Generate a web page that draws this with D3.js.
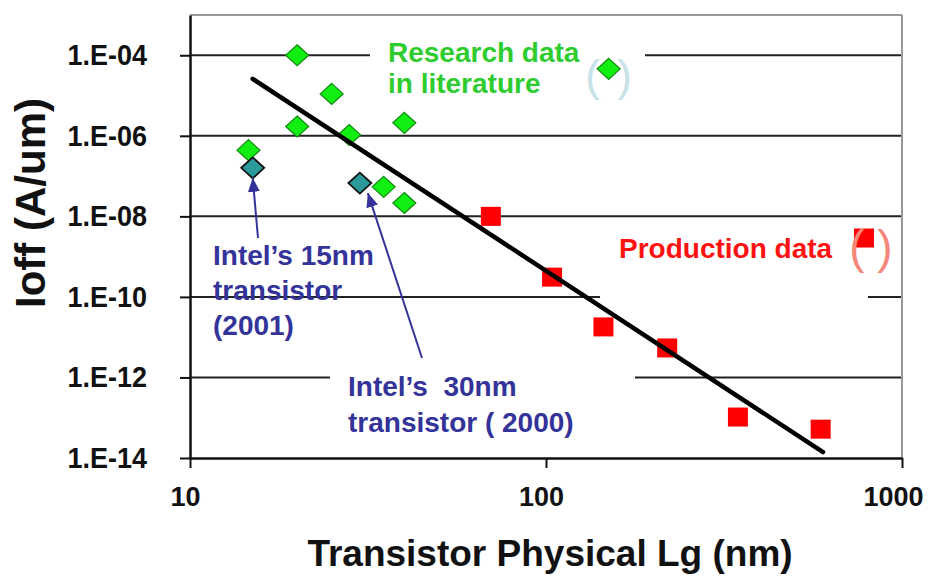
<!DOCTYPE html>
<html>
<head>
<meta charset="utf-8">
<script src="https://cdn.jsdelivr.net/npm/d3@7"></script>
<style>
body { margin: 0; background: #fff; }
text { font-family: Arial, "Liberation Sans", sans-serif; }
</style>
</head>
<body>
<svg id="chart" width="929" height="576"></svg>
<script>
// research data in literature (green diamonds)
const researchLg = [20, 25, 20, 28, 40, 14.6, 35, 40];
const researchIoff = [1e-4, 1.1e-5, 1.7e-6, 1.05e-6, 2.1e-6, 4.4e-7, 5.4e-8, 2.15e-8];

// Intel transistors (teal diamonds)
const intelLg = [15, 30];
const intelIoff = [1.6e-7, 6.7e-8];

// production data (red squares)
const prodLg = [70, 104, 145, 219, 346, 591];
const prodIoff = [1e-8, 3.1e-10, 1.8e-11, 5.4e-12, 1.04e-13, 5.2e-14];

// trend line end points
const trendLg = [15, 600];
const trendIoff = [2.6e-5, 1.4e-14];

// legend markers
const legendResearch = [150, 4.6e-5];
const legendProd = [782, 2.9e-9];

const xTicks = [10, 100, 1000];
const yTicks = [1e-4, 1e-6, 1e-8, 1e-10, 1e-12, 1e-14];

const margin = {top: 15, right: 27, bottom: 118, left: 190};
const width = 929 - margin.left - margin.right;
const height = 576 - margin.top - margin.bottom;

const svg = d3.select("#chart")
	.append("g")
	.attr("transform", "translate(" + margin.left + "," + margin.top + ")");

const x = d3.scaleLog().domain([10, 1000]).range([0, width]);
const y = d3.scaleLog().domain([1e-14, 1e-3]).range([height, 0]);

const navy = "#333399";
const green = "#2ecc2e";
const red = "#ff1111";

// gridlines
svg.selectAll(".grid")
	.data(yTicks.slice(0, -1))
	.enter()
	.append("line")
	.attr("x1", 0)
	.attr("x2", width)
	.attr("y1", d => y(d))
	.attr("y2", d => y(d))
	.attr("stroke", "#222")
	.attr("stroke-width", 2);

// text boxes with white fill that hide the gridlines
const boxes = [
	{x: 180, y: 13, w: 275, h: 72},
	{x: 410, y: 207, w: 268, h: 81},
	{x: 140, y: 347, w: 305, h: 80}
];
svg.selectAll(".box")
	.data(boxes)
	.enter()
	.append("rect")
	.attr("x", d => d.x)
	.attr("y", d => d.y)
	.attr("width", d => d.w)
	.attr("height", d => d.h)
	.attr("fill", "#fff");

// frame top and right
svg.append("line")
	.attr("x1", 0).attr("x2", width)
	.attr("y1", 0).attr("y2", 0)
	.attr("stroke", "#999").attr("stroke-width", 2);
svg.append("line")
	.attr("x1", width).attr("x2", width)
	.attr("y1", 0).attr("y2", height)
	.attr("stroke", "#999").attr("stroke-width", 2);

// axes
const yAxis = svg.append("g")
	.call(d3.axisLeft(y)
		.tickValues(yTicks)
		.tickSize(10)
		.tickSizeOuter(0)
		.tickPadding(33)
		.tickFormat(d => "1.E-" + String(-Math.round(Math.log10(d))).padStart(2, "0")));

const xAxis = svg.append("g")
	.attr("transform", "translate(0," + height + ")")
	.call(d3.axisBottom(x)
		.tickValues(xTicks)
		.tickSize(10)
		.tickSizeOuter(0)
		.tickPadding(19)
		.tickFormat(d3.format("d")));

[yAxis, xAxis].forEach(a => {
	a.selectAll("path").attr("stroke", "#111").attr("stroke-width", 2.5);
	a.selectAll("line").attr("stroke", "#111").attr("stroke-width", 2);
	a.selectAll("text")
		.attr("fill", "#111")
		.style("font-weight", "bold");
});

// y labels are a bit taller and narrower than plain bold Arial
yAxis.selectAll("text")
	.style("font-size", "29px")
	.attr("x", -43 / 0.93)
	.attr("transform", "scale(0.93,1)");

xAxis.selectAll("text")
	.style("font-size", "27px")
	.attr("dx", (d, i) => i === xTicks.length - 1 ? -9 : -5);

// axis titles
svg.append("text")
	.attr("transform", "translate(" + (45 - margin.left) + "," + (203 - margin.top) + ") rotate(-90)")
	.attr("text-anchor", "middle")
	.style("font-size", "42px")
	.style("font-weight", "bold")
	.attr("fill", "#111")
	.text("Ioff (A/um)");

svg.append("text")
	.attr("x", 550 - margin.left)
	.attr("y", 566 - margin.top)
	.attr("text-anchor", "middle")
	.style("font-size", "37px")
	.style("font-weight", "bold")
	.attr("fill", "#111")
	.text("Transistor Physical Lg (nm)");

// diamond shape
const diamond = "M0,-10.5L11.5,0L0,10.5L-11.5,0Z";

// research diamonds
svg.selectAll(".research")
	.data(researchLg.map((d, i) => [d, researchIoff[i]]).concat([legendResearch]))
	.enter()
	.append("path")
	.attr("d", diamond)
	.attr("transform", d => "translate(" + x(d[0]) + "," + y(d[1]) + ")")
	.attr("fill", "#11ee11")
	.attr("stroke", "#118811")
	.attr("stroke-width", 1.2);

// Intel diamonds
svg.selectAll(".intel")
	.data(intelLg.map((d, i) => [d, intelIoff[i]]))
	.enter()
	.append("path")
	.attr("d", diamond)
	.attr("transform", d => "translate(" + x(d[0]) + "," + y(d[1]) + ")")
	.attr("fill", "#2a9a9a")
	.attr("stroke", "#111")
	.attr("stroke-width", 1.8);

// production squares
svg.selectAll(".prod")
	.data(prodLg.map((d, i) => [d, prodIoff[i]]).concat([legendProd]))
	.enter()
	.append("rect")
	.attr("x", d => x(d[0]) - 10)
	.attr("y", d => y(d[1]) - 9.5)
	.attr("width", 20)
	.attr("height", 19)
	.attr("fill", "#ff0000");

// trend line
svg.append("path")
	.datum(trendLg.map((d, i) => [d, trendIoff[i]]))
	.attr("d", d3.line().x(d => x(d[0])).y(d => y(d[1])))
	.attr("fill", "none")
	.attr("stroke", "#000")
	.attr("stroke-width", 4.5)
	.attr("stroke-linecap", "round");

// parentheses around legend markers
function parens(pt, color, size, dxl, dxr, dy) {
	const cx = x(pt[0]), cy = y(pt[1]);
	svg.append("text")
		.attr("x", cx + dxl).attr("y", cy + dy)
		.attr("text-anchor", "middle")
		.style("font-size", size + "px")
		.attr("fill", color)
		.text("(");
	svg.append("text")
		.attr("x", cx + dxr).attr("y", cy + dy)
		.attr("text-anchor", "middle")
		.style("font-size", size + "px")
		.attr("fill", color)
		.text(")");
}
parens(legendResearch, "#c8e2ea", 44, -16, 16, 22);
parens(legendProd, "#f4877a", 46, -7, 21, 25);

// annotation texts
function label(lines, px, py, lineH, color) {
	const t = svg.append("text")
		.attr("x", px - margin.left)
		.attr("y", py - margin.top)
		.style("font-size", "28px")
		.style("font-weight", "bold")
		.style("white-space", "pre")
		.attr("fill", color);
	lines.forEach((s, i) => {
		t.append("tspan")
			.attr("x", px - margin.left)
			.attr("dy", i === 0 ? 0 : lineH)
			.text(s);
	});
}
label(["Research data", "in literature"], 388, 62, 31, green);
label(["Production data"], 619, 258, 0, red);
label(["Intel\u2019s 15nm", "transistor", "(2001)"], 213, 265, 35, navy);
label(["Intel\u2019s  30nm", "transistor ( 2000)"], 348, 396, 36, navy);

// arrows
svg.append("defs").append("marker")
	.attr("id", "head")
	.attr("viewBox", "0 0 14 12")
	.attr("refX", 14)
	.attr("refY", 6)
	.attr("markerWidth", 14)
	.attr("markerHeight", 12)
	.attr("markerUnits", "userSpaceOnUse")
	.attr("orient", "auto")
	.append("path")
	.attr("d", "M0,0L14,6L0,12Z")
	.attr("fill", navy);

const arrows = [
	{from: [258, 238], pt: [intelLg[0], intelIoff[0]], dx: 0, dy: 10},
	{from: [422, 358], pt: [intelLg[1], intelIoff[1]], dx: 8, dy: 10}
];
svg.selectAll(".arrow")
	.data(arrows)
	.enter()
	.append("line")
	.attr("x1", d => d.from[0] - margin.left)
	.attr("y1", d => d.from[1] - margin.top)
	.attr("x2", d => x(d.pt[0]) + d.dx)
	.attr("y2", d => y(d.pt[1]) + d.dy)
	.attr("stroke", navy)
	.attr("stroke-width", 2)
	.attr("marker-end", "url(#head)");
</script>
</body>
</html>
